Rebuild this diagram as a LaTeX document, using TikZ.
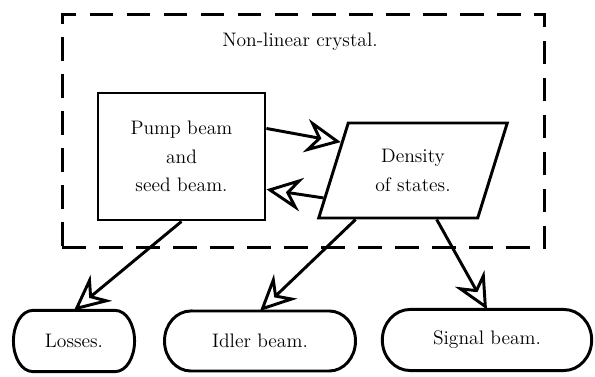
\documentclass[tikz,border=0pt]{standalone}
\usetikzlibrary{arrows.meta,shapes.geometric,calc}
\newcommand\capsuleoutline[3]{\draw (#1.north west) -- (#1.north east)
  arc[start angle=90,end angle=-90,x radius=#2,y radius=#3] -- (#1.south west)
  arc[start angle=-90,end angle=-270,x radius=#2,y radius=#3] -- cycle;}
\begin{document}
\begin{tikzpicture}[x=0.578pt,y=-0.578pt, line width=1.7pt,
  every node/.style={font=\fontsize{11.3pt}{13.6pt}\selectfont},
  arr/.style={-{Stealth[open,length=20.5pt,width=19.5pt,inset=7pt]}, line join=miter},
  box/.style={draw, rectangle, minimum width=96.5pt, minimum height=73.4pt, align=center},
  para/.style={draw, trapezium, trapezium left angle=69.8, trapezium right angle=110.2,
    trapezium stretches=true, minimum width=109.8pt, minimum height=54.9pt, align=center},
  endbox/.style={rectangle, outer sep=0pt, inner sep=0pt}]
\useasboundingbox (0,0) rectangle (595,377);
\node[draw, dash pattern=on 13.6pt off 7.8pt, minimum width=279pt, minimum height=135pt] (crystal) at (303.5,131) {};
\node (crystallabel) at (300,42) {Non-linear crystal.};
\node[box] (pump) at (181.5,156.5) {Pump beam\\[3pt] and\\[3pt] seed beam.};
\node[para] (dens) at (413,170.5) {Density\\[3pt] of states.};
\node[endbox, minimum width=48pt, minimum height=35.3pt] (losses) at (74,341) {Losses.};
\node[endbox, minimum width=80pt, minimum height=34.7pt] (idler) at (260,341) {Idler beam.};
\node[endbox, minimum width=89pt, minimum height=35.3pt] (signal) at (487,340) {Signal beam.};
\capsuleoutline{losses}{11pt}{17.65pt}
\capsuleoutline{idler}{15.2pt}{17.35pt}
\capsuleoutline{signal}{16pt}{17.65pt}
\draw[arr] ([yshift=16.2pt]pump.east) -- ($(dens.bottom left corner)!0.79!(dens.top left corner)$);
\draw[arr] ($(dens.bottom left corner)!0.22!(dens.top left corner)$) -- ([yshift=-19pt]pump.east);
\draw[arr] (pump.south) -- (losses.north);
\draw[arr] ($(dens.bottom left corner)!0.24!(dens.bottom right corner)$) -- (idler.north);
\draw[arr] ($(dens.bottom left corner)!0.74!(dens.bottom right corner)$) -- (signal.north);
\end{tikzpicture}
\end{document}
